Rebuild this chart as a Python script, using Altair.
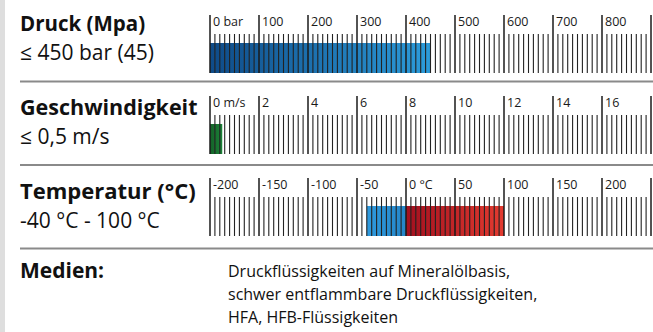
import altair as alt
import pandas as pd

W, H = 653, 332
FONT = "Open Sans"

# ---- scale definitions for the three rulers ----
druck_major = [0, 100, 200, 300, 400, 500, 600, 700, 800, 900]
druck_labels = ["0 bar", "100", "200", "300", "400", "500", "600", "700", "800", ""]
druck_step = 10
druck_bar = [0, 450]

speed_major = [0, 2, 4, 6, 8, 10, 12, 14, 16, 18]
speed_labels = ["0 m/s", "2", "4", "6", "8", "10", "12", "14", "16", ""]
speed_step = 0.2
speed_bar = [0, 0.5]

temp_major = [-200, -150, -100, -50, 0, 50, 100, 150, 200, 250]
temp_labels = ["-200", "-150", "-100", "-50", "0 °C", "50", "100", "150", "200", ""]
temp_step = 5
temp_cold = [-40, 0]
temp_warm = [0, 100]

titles = ["Druck (Mpa)", "Geschwindigkeit", "Temperatur (°C)"]
subtitles = ["≤ 450 bar (45)", "≤ 0,5 m/s", "-40 °C - 100 °C"]
medien_title = "Medien:"
medien_lines = [
    "Druckflüssigkeiten auf Mineralölbasis,",
    "schwer entflammbare Druckflüssigkeiten,",
    "HFA, HFB-Flüssigkeiten",
]

# pixel span of the rulers (first to last major tick)
RULER_X0, RULER_X1 = 210, 651


def minor_ticks(major, step):
    lo, hi = major[0], major[-1]
    n = int(round((hi - lo) / step))
    vals = [round(lo + i * step, 6) for i in range(n + 1)]
    majors = set(round(m, 6) for m in major)
    return [v for v in vals if v not in majors]


def ruler(major, labels, step, bars, top):
    """Build the layers of one ruler; `top` is the y of the major tick tops."""
    scale = alt.Scale(domain=[major[0], major[-1]], range=[RULER_X0, RULER_X1], nice=False, zero=False)
    x = lambda f: alt.X(f"{f}:Q", scale=scale, axis=None)
    bottom = top + 58
    layers = []
    for lo, hi, grad in bars:
        layers.append(
            alt.Chart(pd.DataFrame({"lo": [lo], "hi": [hi]}))
            .mark_rect(color=grad)
            .encode(x=x("lo"), x2="hi", y=alt.value(top + 28), y2=alt.value(bottom))
        )
    layers.append(
        alt.Chart(pd.DataFrame({"v": minor_ticks(major, step)}))
        .mark_rule(color="#222222", strokeWidth=1.1)
        .encode(x=x("v"), y=alt.value(top + 19), y2=alt.value(bottom))
    )
    layers.append(
        alt.Chart(pd.DataFrame({"v": major}))
        .mark_rule(color="#1a1a1a", strokeWidth=1.5)
        .encode(x=x("v"), y=alt.value(top), y2=alt.value(bottom))
    )
    layers.append(
        alt.Chart(pd.DataFrame({"v": major, "t": labels}))
        .mark_text(align="left", baseline="alphabetic", dx=3, font=FONT, fontSize=12.5, color="#1a1a1a")
        .encode(x=x("v"), y=alt.value(top + 10.5), text="t:N")
    )
    return layers


def grad(c0, c1):
    return alt.Gradient(
        gradient="linear",
        x1=0, x2=1, y1=0, y2=0,
        stops=[alt.GradientStop(offset=0, color=c0), alt.GradientStop(offset=1, color=c1)],
    )


one = alt.Data(values=[{}])


def label(text, x, y, size, weight="normal", color="#111111"):
    return (
        alt.Chart(one)
        .mark_text(align="left", baseline="alphabetic", font=FONT, fontSize=size, fontWeight=weight, color=color)
        .encode(x=alt.value(x), y=alt.value(y), text=alt.value(text))
    )


layers = []

# light strip along the left edge
layers.append(
    alt.Chart(one).mark_rect(color="#dedede")
    .encode(x=alt.value(0), x2=alt.value(5), y=alt.value(0), y2=alt.value(H))
)

# separators between the rows
for yy in [81.5, 165, 248.5]:
    layers.append(
        alt.Chart(one).mark_rule(color="#8a8a8a", strokeWidth=2)
        .encode(x=alt.value(20), x2=alt.value(W), y=alt.value(yy))
    )

layers += ruler(druck_major, druck_labels, druck_step,
                [(druck_bar[0], druck_bar[1], grad("#0f4b88", "#2c9cdb"))], 15)
layers += ruler(speed_major, speed_labels, speed_step,
                [(speed_bar[0], speed_bar[1], grad("#146128", "#1c8439"))], 96)
layers += ruler(temp_major, temp_labels, temp_step,
                [(temp_cold[0], temp_cold[1], grad("#2f9ade", "#2485c8")),
                 (temp_warm[0], temp_warm[1], grad("#a3101f", "#e33b30"))], 178)

# row captions
title_sizes = [20.5, 21.5, 22]
for i, (t, s) in enumerate(zip(titles, subtitles)):
    base = [31, 115, 199][i]
    layers.append(label(t, 20, base, title_sizes[i], "bold"))
    layers.append(label(s, 20, base + 29, 21))

layers.append(label(medien_title, 20, 278, 21, "bold"))
layers.append(
    alt.Chart(one)
    .mark_text(align="left", baseline="alphabetic", font=FONT, fontSize=16, lineHeight=23, color="#111111")
    .encode(x=alt.value(228), y=alt.value(277), text=alt.value(medien_lines))
)

chart = (
    alt.layer(*layers)
    .resolve_scale(x="independent")
    .properties(width=W, height=H, padding=0, autosize=alt.AutoSizeParams(type="none"))
    .configure_view(stroke=None)
)

chart.save("out.html", embed_options={"renderer": "svg", "actions": False})
